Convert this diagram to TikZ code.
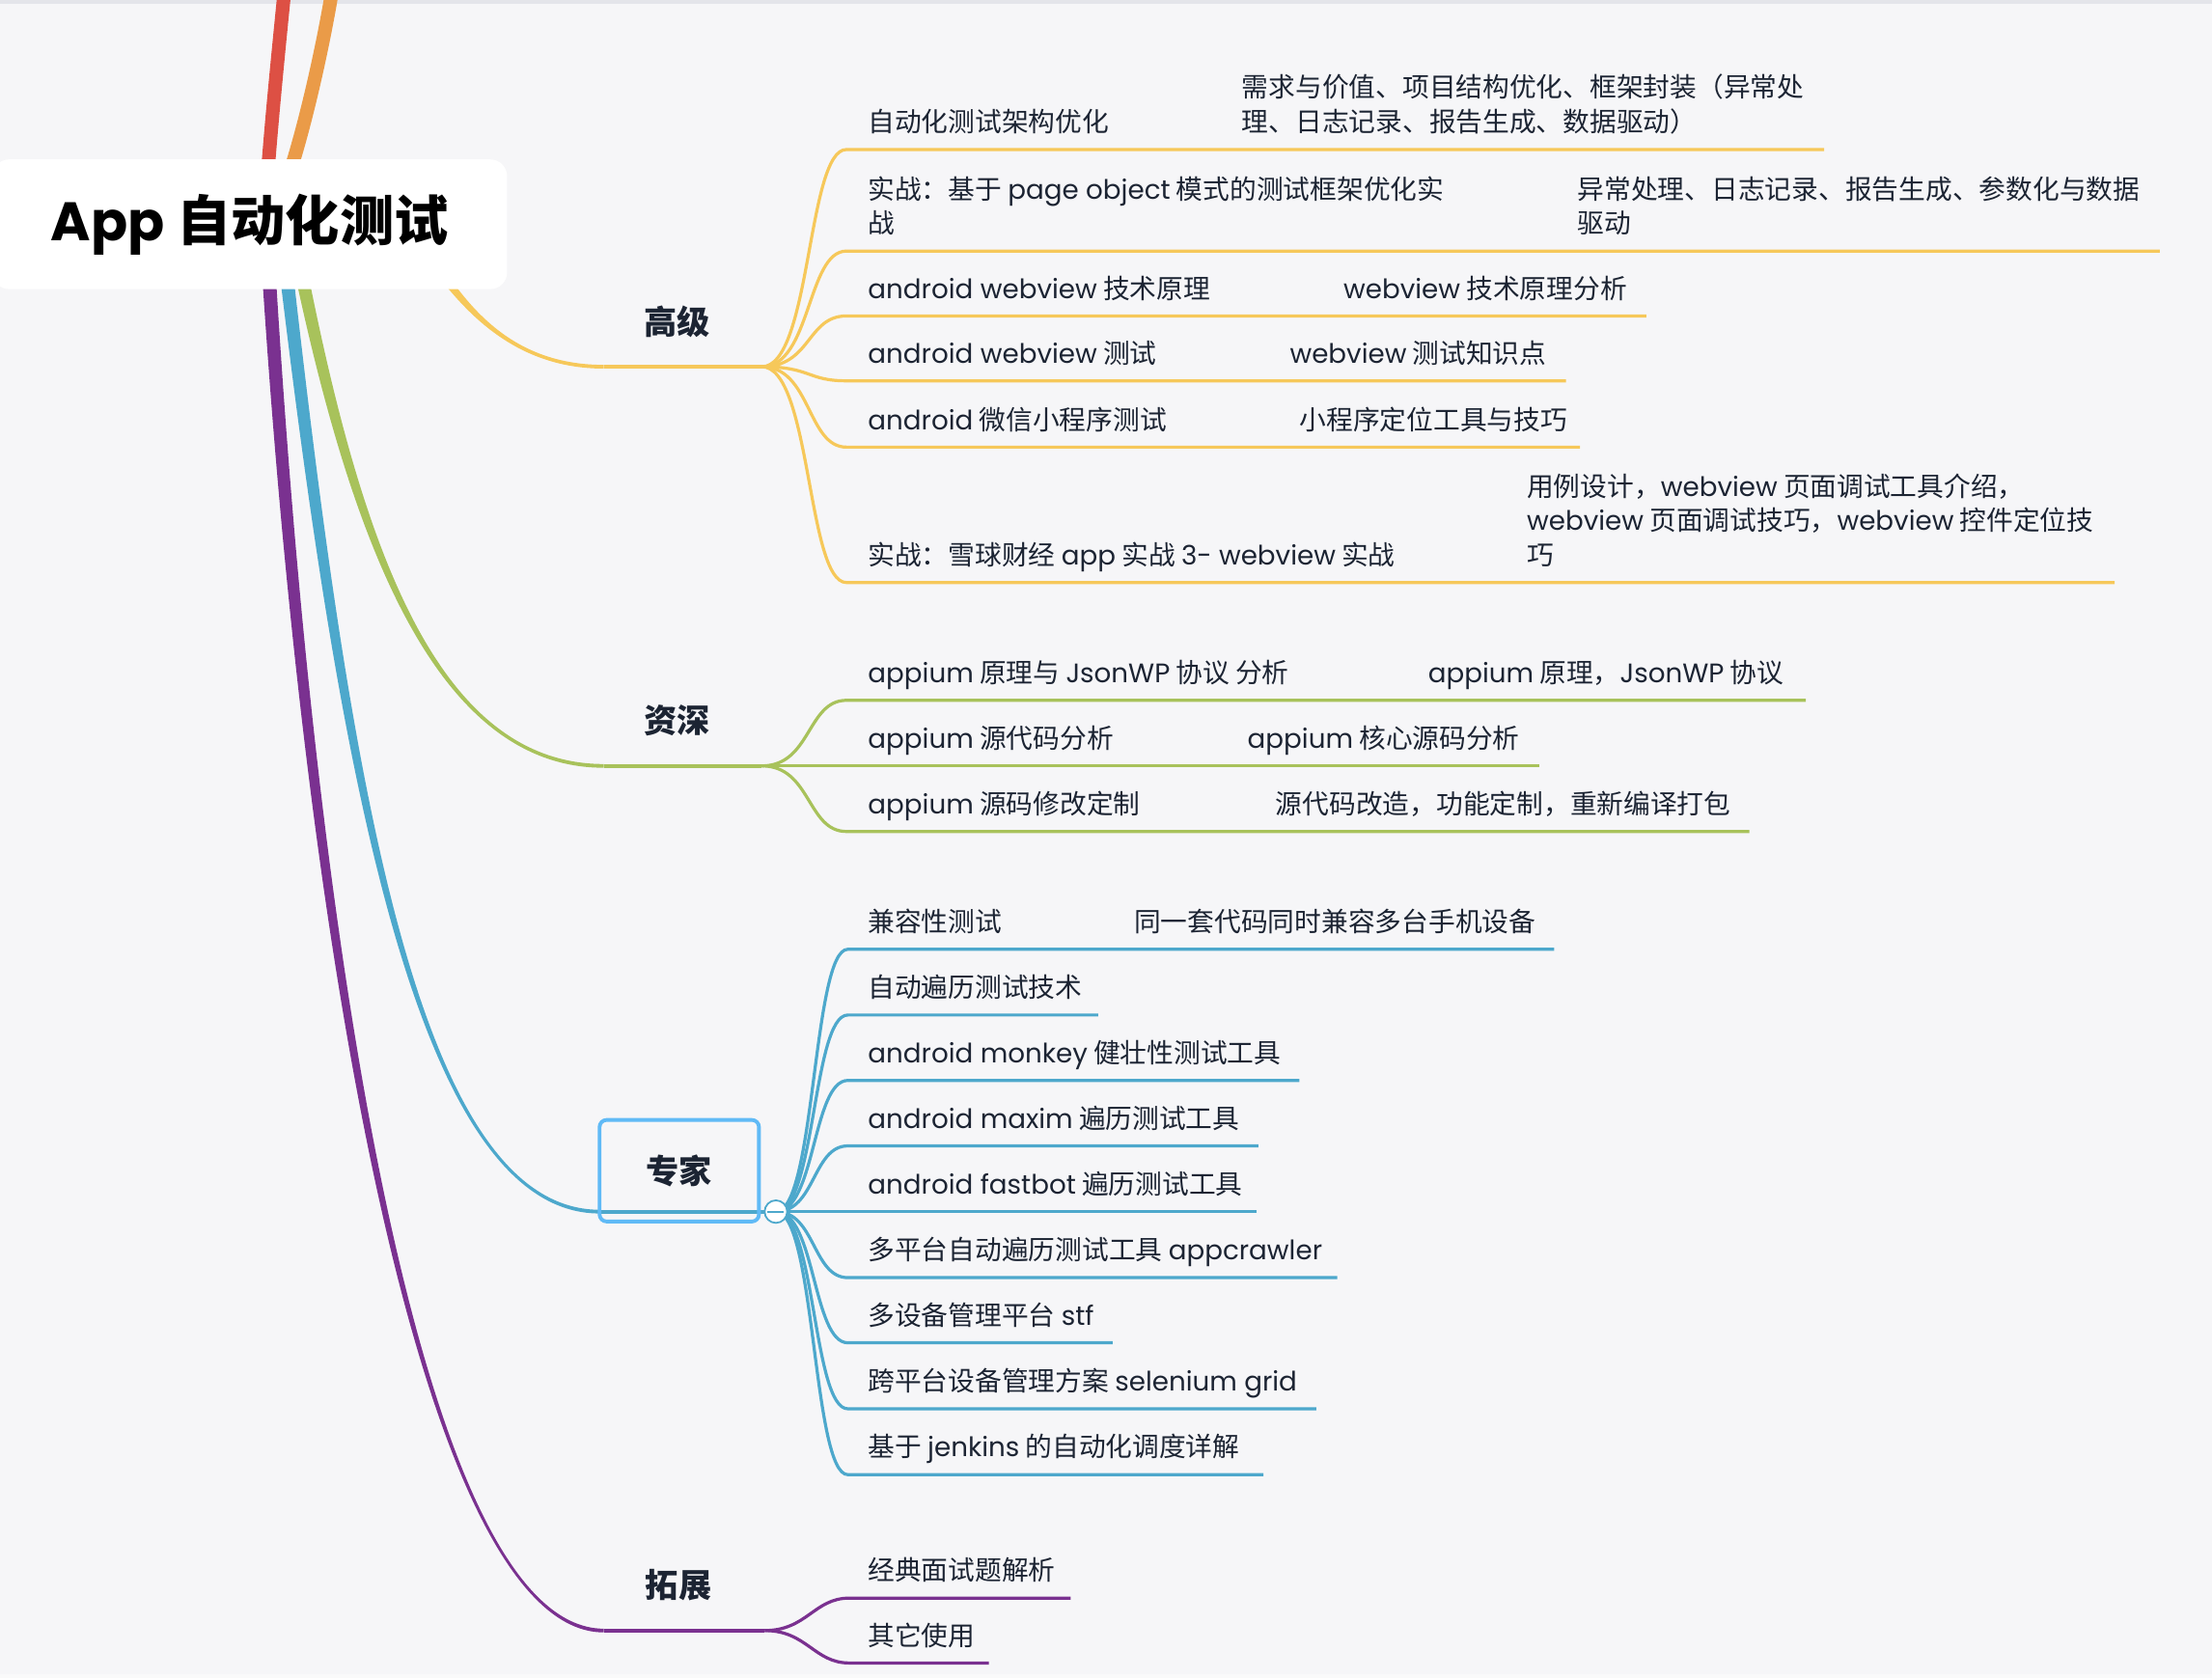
\documentclass[tikz,border=0pt]{standalone}
\usepackage{fontspec}
\setmainfont{Noto Sans CJK SC}
\newfontfamily\latin{Poppins}
\newcommand\en[1]{{\latin #1}}

\definecolor{paper}{HTML}{F6F6F8}
\definecolor{rim}{HTML}{E4E5EA}
\definecolor{foot}{HTML}{FAFAFA}
\definecolor{ink}{HTML}{1C2433}
\definecolor{gaoji}{HTML}{F6C85A}
\definecolor{zishen}{HTML}{A8C25B}
\definecolor{zhuanjia}{HTML}{4DA8CC}
\definecolor{tuozhan}{HTML}{7A3190}
\definecolor{hong}{HTML}{DD5044}
\definecolor{cheng}{HTML}{EA9B48}
\definecolor{kuang}{HTML}{60BAF6}

% tapered main branch: colour, start, control 1, control 2, end
\newcommand\bough[5]{%
  \fill[#1] ([xshift=-2.8pt]#2) .. controls ([xshift=-2.2pt]#3) and ([yshift=-0.75pt]#4) .. ([yshift=-0.75pt]#5)
    -- ([yshift=0.75pt]#5) .. controls ([yshift=0.75pt]#4) and ([xshift=2.2pt]#3) .. ([xshift=2.8pt]#2) -- cycle;}

\begin{document}
\begin{tikzpicture}[x=0.02cm,y=-0.02cm,
  item/.style={anchor=base west,inner sep=0,text=ink,align=left,
    font=\fontsize{10.8}{13.9}\selectfont},
  topic/.style={inner sep=0,text=ink,font=\fontsize{13.3}{16}\selectfont\bfseries},
  twig/.style={line width=1.25pt},
  stem/.style={line width=1.5pt}]

  \useasboundingbox (0,0) rectangle (1568,1190);
  \fill[paper] (0,0) rectangle (1568,1190);
  \fill[rim] (0,0) rectangle (1568,2.7);
  \fill[foot] (0,1186.6) rectangle (1568,1190);

  % trunks
  \coordinate (up1) at (202,-10);
  \coordinate (up2) at (236,-10);
  \coordinate (r1) at (188,150);
  \coordinate (r2) at (195,150);
  \draw[hong,line width=5.5pt] (r1) .. controls (190,110) and (197,40) .. (up1);
  \draw[cheng,line width=5.5pt] (r2) .. controls (210,118) and (228,40) .. (up2);

  \coordinate (gjl) at (428,260);
  \coordinate (gjr) at (540,260);
  \coordinate (zsl) at (428,543);
  \coordinate (zsr) at (540,543);
  \coordinate (zjl) at (425,859);
  \coordinate (zjr) at (550,859);
  \coordinate (tzl) at (428,1156);
  \coordinate (tzr) at (542,1156);

  \bough{tuozhan}{188,150}{218,680}{300,1156}{tzl}
  \bough{zhuanjia}{198,150}{240,520}{290,859}{zjl}
  \bough{zishen}{205,150}{245,360}{300,543}{zsl}
  \bough{gaoji}{285,150}{315,200}{350,260}{gjl}

  \node (root) at (177,159) [fill=white,rounded corners=0.24cm,minimum width=7.3cm,
    minimum height=1.84cm,font=\fontsize{21.9}{26}\selectfont\bfseries]{\en{App} 自动化测试};

  \draw[stem,gaoji] (gjl) -- (gjr);
  \draw[stem,zishen] (zsl) -- (zsr);
  \draw[stem,zhuanjia] (zjl) -- (zjr);
  \draw[stem,tuozhan] (tzl) -- (tzr);

  \node (gj) at (480,228) [topic]{高级};
  \node (zs) at (480,511) [topic]{资深};
  \node (zj) at (481.5,830) [topic,draw=kuang,line width=1.5pt,rounded corners=0.1cm,
    minimum width=2.26cm,minimum height=1.44cm]{专家};
  \node (tz) at (481,1124) [topic]{拓展};

  % 高级
  \node (g1) at (615,93.5) [item]{自动化测试架构优化};
  \node (g1d) at (880,93.5) [item]{需求与价值、项目结构优化、框架封装（异常处\\理、日志记录、报告生成、数据驱动）};
  \node (g2) at (615,165.5) [item]{实战：基于 \en{page object} 模式的测试框架优化实\\战};
  \node (g2d) at (1118,165.5) [item]{异常处理、日志记录、报告生成、参数化与数据\\驱动};
  \node (g3) at (615,211.5) [item]{\en{android webview} 技术原理};
  \node (g3d) at (952,211.5) [item]{\en{webview} 技术原理分析};
  \node (g4) at (615,257.5) [item]{\en{android webview} 测试};
  \node (g4d) at (914,257.5) [item]{\en{webview} 测试知识点};
  \node (g5) at (615,304.5) [item]{\en{android} 微信小程序测试};
  \node (g5d) at (921,304.5) [item]{小程序定位工具与技巧};
  \node (g6) at (615,400.5) [item]{实战：雪球财经 \en{app} 实战 \en{3- webview} 实战};
  \node (g6d) at (1082,400.5) [item]{用例设计，\en{webview} 页面调试工具介绍，\\\en{webview} 页面调试技巧，\en{webview} 控件定位技\\巧};

  \coordinate (g1s) at (600,106);   \coordinate (g1e) at (1293,106);
  \coordinate (g2s) at (600,178);   \coordinate (g2e) at (1531,178);
  \coordinate (g3s) at (600,224);   \coordinate (g3e) at (1167,224);
  \coordinate (g4s) at (600,270);   \coordinate (g4e) at (1110,270);
  \coordinate (g5s) at (600,317);   \coordinate (g5e) at (1120,317);
  \coordinate (g6s) at (600,413);   \coordinate (g6e) at (1499,413);

  \draw[twig,gaoji] (gjr) .. controls +(35,0) and +(-28,0) .. (g1s) -- (g1e);
  \draw[twig,gaoji] (gjr) .. controls +(35,0) and +(-28,0) .. (g2s) -- (g2e);
  \draw[twig,gaoji] (gjr) .. controls +(35,0) and +(-28,0) .. (g3s) -- (g3e);
  \draw[twig,gaoji] (gjr) .. controls +(35,0) and +(-28,0) .. (g4s) -- (g4e);
  \draw[twig,gaoji] (gjr) .. controls +(35,0) and +(-28,0) .. (g5s) -- (g5e);
  \draw[twig,gaoji] (gjr) .. controls +(35,0) and +(-28,0) .. (g6s) -- (g6e);

  % 资深
  \node (s1) at (615,484) [item]{\en{appium} 原理与 \en{JsonWP} 协议 分析};
  \node (s1d) at (1012,484) [item]{\en{appium} 原理，\en{JsonWP} 协议};
  \node (s2) at (615,530.5) [item]{\en{appium} 源代码分析};
  \node (s2d) at (884,530.5) [item]{\en{appium} 核心源码分析};
  \node (s3) at (615,577) [item]{\en{appium} 源码修改定制};
  \node (s3d) at (904,577) [item]{源代码改造，功能定制，重新编译打包};

  \coordinate (s1s) at (600,496.5); \coordinate (s1e) at (1280,496.5);
  \coordinate (s2s) at (600,543);   \coordinate (s2e) at (1091,543);
  \coordinate (s3s) at (600,589.5); \coordinate (s3e) at (1240,589.5);

  \draw[twig,zishen] (zsr) .. controls +(35,0) and +(-28,0) .. (s1s) -- (s1e);
  \draw[twig,zishen] (zsr) -- (s2s) -- (s2e);
  \draw[twig,zishen] (zsr) .. controls +(35,0) and +(-28,0) .. (s3s) -- (s3e);

  % 专家
  \node (z1) at (615,660.5) [item]{兼容性测试};
  \node (z1d) at (803.6,660.5) [item]{同一套代码同时兼容多台手机设备};
  \node (z2) at (615,707) [item]{自动遍历测试技术};
  \node (z3) at (615,753.5) [item]{\en{android monkey} 健壮性测试工具};
  \node (z4) at (615,800) [item]{\en{android maxim} 遍历测试工具};
  \node (z5) at (615,846.5) [item]{\en{android fastbot} 遍历测试工具};
  \node (z6) at (615,893.3) [item]{多平台自动遍历测试工具 \en{appcrawler}};
  \node (z7) at (615,939.5) [item]{多设备管理平台 \en{stf}};
  \node (z8) at (615,986.3) [item]{跨平台设备管理方案 \en{selenium grid}};
  \node (z9) at (615,1033) [item]{基于 \en{jenkins} 的自动化调度详解};

  \coordinate (z1s) at (601,673);    \coordinate (z1e) at (1101.6,673);
  \coordinate (z2s) at (601,719.6);  \coordinate (z2e) at (778.5,719.6);
  \coordinate (z3s) at (601,766);    \coordinate (z3e) at (921,766);
  \coordinate (z4s) at (601,812.4);  \coordinate (z4e) at (892,812.4);
  \coordinate (z5s) at (601,859);    \coordinate (z5e) at (891,859);
  \coordinate (z6s) at (601,905.8);  \coordinate (z6e) at (948,905.8);
  \coordinate (z7s) at (601,952);    \coordinate (z7e) at (788.7,952);
  \coordinate (z8s) at (601,998.8);  \coordinate (z8e) at (933,998.8);
  \coordinate (z9s) at (601,1045.5); \coordinate (z9e) at (895.6,1045.5);

  \draw[twig,zhuanjia] (zjr) .. controls +(28,0) and +(-25,0) .. (z1s) -- (z1e);
  \draw[twig,zhuanjia] (zjr) .. controls +(28,0) and +(-25,0) .. (z2s) -- (z2e);
  \draw[twig,zhuanjia] (zjr) .. controls +(28,0) and +(-25,0) .. (z3s) -- (z3e);
  \draw[twig,zhuanjia] (zjr) .. controls +(28,0) and +(-25,0) .. (z4s) -- (z4e);
  \draw[twig,zhuanjia] (zjr) -- (z5s) -- (z5e);
  \draw[twig,zhuanjia] (zjr) .. controls +(28,0) and +(-25,0) .. (z6s) -- (z6e);
  \draw[twig,zhuanjia] (zjr) .. controls +(28,0) and +(-25,0) .. (z7s) -- (z7e);
  \draw[twig,zhuanjia] (zjr) .. controls +(28,0) and +(-25,0) .. (z8s) -- (z8e);
  \draw[twig,zhuanjia] (zjr) .. controls +(28,0) and +(-25,0) .. (z9s) -- (z9e);

  \node (zjo) at (zjr) [circle,draw=zhuanjia,fill=white,line width=0.7pt,
    minimum size=0.32cm,inner sep=0]{};
  \draw[zhuanjia,line width=0.8pt] ([xshift=-3.3pt]zjo.center) -- ([xshift=3.3pt]zjo.center);

  % 拓展
  \node (t1) at (615,1120.5) [item]{经典面试题解析};
  \node (t2) at (615,1166.5) [item]{其它使用};

  \coordinate (t1s) at (602,1133); \coordinate (t1e) at (759,1133);
  \coordinate (t2s) at (602,1179); \coordinate (t2e) at (701,1179);

  \draw[twig,tuozhan] (tzr) .. controls +(30,0) and +(-25,0) .. (t1s) -- (t1e);
  \draw[twig,tuozhan] (tzr) .. controls +(30,0) and +(-25,0) .. (t2s) -- (t2e);

\end{tikzpicture}
\end{document}
